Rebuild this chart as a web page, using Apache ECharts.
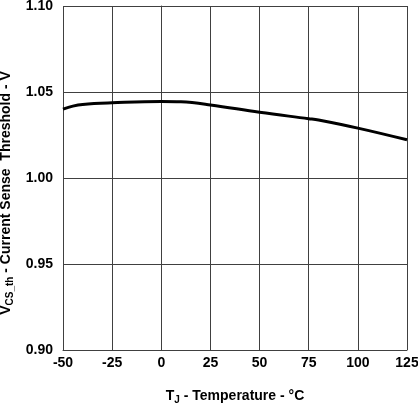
<!DOCTYPE html>
<html>
<head>
<meta charset="utf-8">
<script src="https://cdn.jsdelivr.net/npm/echarts@6/dist/echarts.min.js"></script>
<style>
  html, body { margin: 0; padding: 0; background: #fff; }
  #chart { width: 418px; height: 403px; }
</style>
</head>
<body>
<div id="chart"></div>
<script>
// junction temperature, degC
const temps = [-50, -45, -40, -25, 0, 10, 25, 50, 75, 80, 100, 125];
// current sense threshold, V
const vth = [1.040, 1.0418, 1.0428, 1.0437, 1.0445, 1.0443, 1.0425, 1.0382, 1.0345, 1.0337, 1.0290, 1.0222];

const xTicks = { min: -50, max: 125, step: 25 };
const yTicks = { min: 0.90, max: 1.10, step: 0.05 };

const lineColor = '#404040';
const fontFam = 'Liberation Sans, Arial, sans-serif';

const titleRich = {
    b: { fontFamily: fontFam, fontWeight: 'bold', fontSize: 14, color: '#000' },
    s: { fontFamily: fontFam, fontWeight: 'bold', fontSize: 10, color: '#000', verticalAlign: 'bottom', padding: [7, 0, 0, 0] }
};

const chart = echarts.init(document.getElementById('chart'));

chart.setOption({
    animation: false,
    grid: { left: 63, right: 11, top: 6, bottom: 53, outerBoundsMode: 'none' },
    xAxis: {
        type: 'value',
        min: xTicks.min,
        max: xTicks.max,
        interval: xTicks.step,
        name: '{b|T}{s|J}{b| - Temperature - °C}',
        nameLocation: 'middle',
        nameGap: 38,
        nameTextStyle: { rich: titleRich },
        axisLine: { lineStyle: { color: lineColor, width: 1 } },
        axisTick: { show: false },
        axisLabel: {
            margin: 6,
            fontFamily: fontFam, fontWeight: 'bold', fontSize: 14, color: '#000',
            formatter: v => v < 0 ? '-' + Math.abs(v) : String(v)
        },
        splitLine: { show: true, lineStyle: { color: lineColor, width: 1 } }
    },
    yAxis: {
        type: 'value',
        min: yTicks.min,
        max: yTicks.max,
        interval: yTicks.step,
        name: '{b|V}{s|CS_th}{b| - Current Sense  Threshold - V}',
        nameLocation: 'middle',
        nameGap: 45,
        nameTextStyle: { rich: titleRich, padding: [0, 30, 0, 0] },
        axisLine: { show: true, lineStyle: { color: lineColor, width: 1 } },
        axisTick: { show: false },
        axisLabel: {
            margin: 10,
            fontFamily: fontFam, fontWeight: 'bold', fontSize: 14, color: '#000',
            formatter: v => v.toFixed(2)
        },
        splitLine: { show: true, lineStyle: { color: lineColor, width: 1 } }
    },
    series: [{
        type: 'line',
        data: temps.map((t, i) => [t, vth[i]]),
        smooth: 0.4,
        showSymbol: false,
        lineStyle: { color: '#000', width: 3 }
    }]
});
</script>
</body>
</html>
